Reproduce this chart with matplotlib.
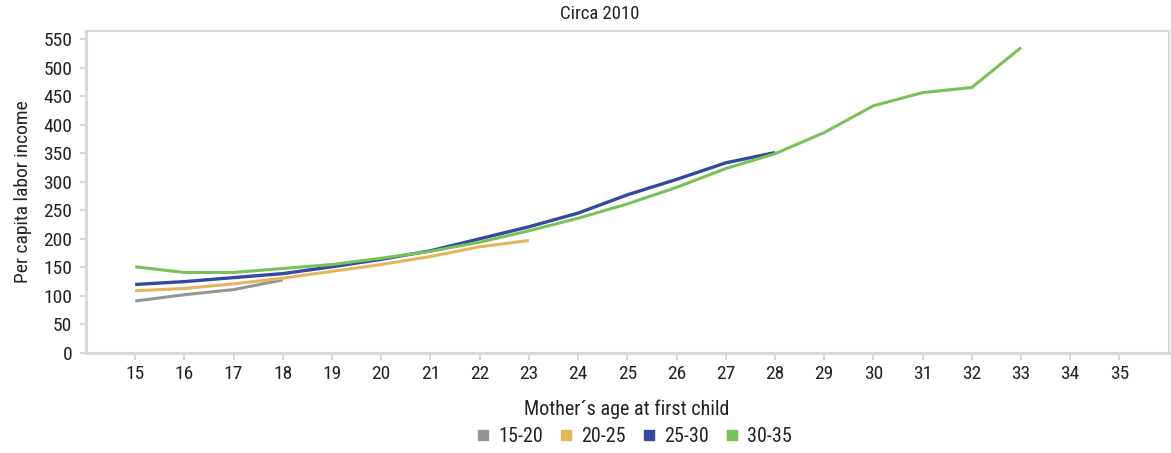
import matplotlib.pyplot as plt
from matplotlib.lines import Line2D

ages = list(range(15, 36))

# per capita labor income by mother's age at first child group
g15_20 = [91, 102, 111, 128]
g20_25 = [109, 113, 121, 131, 143, 155, 169, 186, 197]
g25_30 = [120, 125, 132, 139, 151, 164, 179, 200, 221, 245, 277, 304, 333, 351]
g30_35 = [151, 141, 141, 148, 155, 166, 178, 194, 214, 236, 261, 290, 323, 349,
          386, 433, 456, 465, 535]

series = [("15-20", g15_20, "#939598", 2.2),
          ("20-25", g20_25, "#E3B55E", 2.2),
          ("25-30", g25_30, "#34499E", 2.4),
          ("30-35", g30_35, "#79C25A", 2.2)]

plt.rcParams['font.family'] = ['Liberation Sans Narrow', 'Roboto Condensed',
                               'Lato', 'DejaVu Sans']

fig = plt.figure(figsize=(11.71, 4.53), dpi=100)
ax = fig.add_axes([0.0734, 0.2208, 0.9246, 0.7108])

for name, vals, color, lw in series:
    ax.plot(ages[:len(vals)], vals, color=color, lw=lw, solid_capstyle='butt')

ax.set_xlim(14, 36)
ax.set_ylim(0, 564)
ax.set_xticks(ages)
ax.set_yticks(range(0, 551, 50))
ax.tick_params(axis='y', length=4, width=1.5, color='#D9D9D9', labelsize=14,
               labelcolor='#222222', pad=6)
ax.tick_params(axis='x', length=5, width=1.5, color='#D9D9D9', labelsize=14,
               labelcolor='#222222', pad=4)

for s in ax.spines.values():
    s.set_color('#D9D9D9')
    s.set_linewidth(1.5)
ax.spines['left'].set_linewidth(2.2)
ax.spines['bottom'].set_linewidth(2.2)

ax.set_ylabel("Per capita labor income", fontsize=14, color='#222222', labelpad=8)
fig.text(600 / 1171, 1 - 14 / 453, "Circa 2010", ha='center', va='center',
         fontsize=13.5, color='#222222')
fig.text(627 / 1171, 1 - 409 / 453, "Mother\u00b4s age at first child", ha='center',
         va='center', fontsize=14.5, color='#222222')

handles = [Line2D([], [], marker='s', ls='none', color=c, markersize=7)
           for _, _, c, _ in series]
fig.legend(handles, [n for n, _, _, _ in series], loc='center',
           bbox_to_anchor=(634 / 1171, 1 - 437 / 453), ncol=4, frameon=False,
           fontsize=14.5, handlelength=0.7, handletextpad=0.4, columnspacing=0.8,
           labelcolor='#222222')

fig.savefig("out.png", dpi=100)
